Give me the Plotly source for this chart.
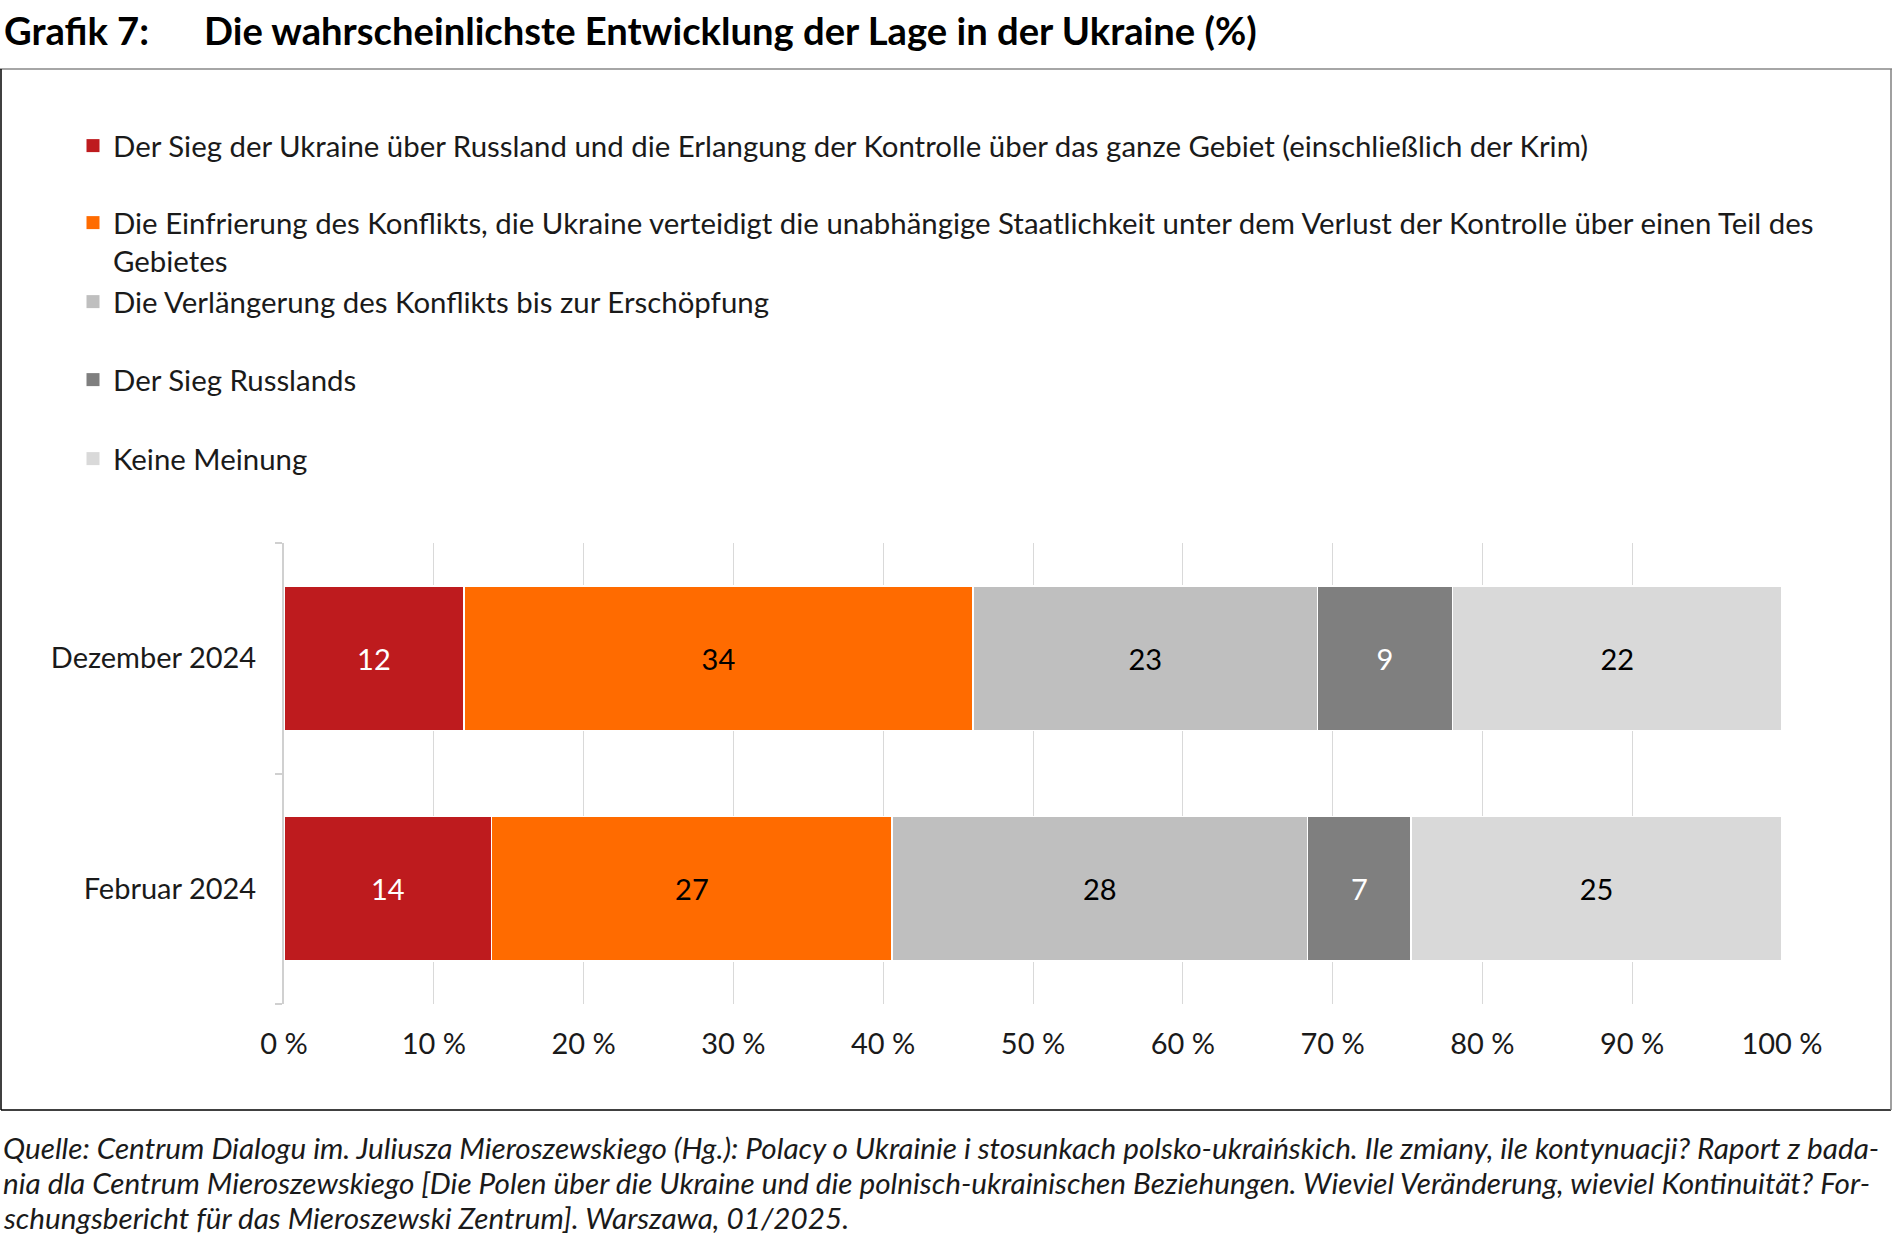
import plotly.graph_objects as go

categories = ["Februar 2024", "Dezember 2024"]
series_names = [
    "Der Sieg der Ukraine über Russland und die Erlangung der Kontrolle über das ganze Gebiet (einschließlich der Krim)",
    "Die Einfrierung des Konflikts, die Ukraine verteidigt die unabhängige Staatlichkeit unter dem Verlust der Kontrolle über einen Teil des<br>Gebietes",
    "Die Verlängerung des Konflikts bis zur Erschöpfung",
    "Der Sieg Russlands",
    "Keine Meinung",
]
# values ordered as categories: [Februar 2024, Dezember 2024]
sieg_ukraine = [14, 12]
einfrierung = [27, 34]
verlaengerung = [28, 23]
sieg_russland = [7, 9]
keine_meinung = [25, 22]
series_values = [sieg_ukraine, einfrierung, verlaengerung, sieg_russland, keine_meinung]
colors = ["#BE1B1E", "#FF6B00", "#BFBFBF", "#7F7F7F", "#D9D9D9"]
text_colors = ["white", "black", "black", "white", "black"]
tick_vals = [0, 10, 20, 30, 40, 50, 60, 70, 80, 90, 100]
tick_text = [f"{v} %" for v in tick_vals]

W, H = 1893, 1240
L, R, T, B = 284, 111, 543, 236
PW, PH = W - L - R, H - T - B


def px2x(px):
    return (px - L) / PW


def py2y(py):
    return (H - B - py) / PH


FONT = "Lato"
FS = 29
LFS = 29.4
fig = go.Figure()
legend_centers = [146, 242, 302, 380, 459]
legend_names = ["legend", "legend2", "legend3", "legend4", "legend5"]
for i, (name, vals) in enumerate(zip(series_names, series_values)):
    fig.add_trace(go.Bar(
        y=categories, x=vals, orientation="h", name=name,
        marker=dict(color=colors[i], line=dict(color="white", width=1.5)),
        text=[str(v) for v in vals], textposition="inside", insidetextanchor="middle",
        textangle=0, constraintext="none",
        textfont=dict(family=FONT, size=FS, color=text_colors[i]),
        showlegend=False, hoverinfo="skip",
    ))
# legend entries (square swatches)
for i, name in enumerate(series_names):
    fig.add_trace(go.Scatter(
        x=[None], y=[None], mode="markers", name=name,
        marker=dict(symbol="square", size=13, color=colors[i]),
        legend=legend_names[i], showlegend=True, hoverinfo="skip",
    ))

layout_legends = {}
for i, ln in enumerate(legend_names):
    layout_legends[ln] = dict(
        xref="container", yref="container",
        x=73 / W, y=1 - legend_centers[i] / H,
        xanchor="left", yanchor="middle",
        font=dict(family=FONT, size=LFS, color="#1a1a1a"),
        bgcolor="rgba(0,0,0,0)", valign="top", itemsizing="trace",
        itemclick=False, itemdoubleclick=False,
    )

fig.update_layout(
    width=W, height=H,
    margin=dict(l=L, r=R, t=T, b=B, autoexpand=False),
    barmode="stack", barnorm="percent", bargap=0.375,
    plot_bgcolor="white", paper_bgcolor="white",
    font=dict(family=FONT, size=FS, color="#1a1a1a"),
    showlegend=True,
    **layout_legends,
)
fig.update_xaxes(
    range=[0, 100], tickvals=tick_vals, ticktext=tick_text,
    showgrid=True, gridcolor="#D9D9D9", gridwidth=1, zeroline=False,
    showline=False, ticks="", ticklabelstandoff=20,
    tickfont=dict(family=FONT, size=FS, color="#1a1a1a"), fixedrange=True,
)
fig.update_yaxes(
    type="category", categoryorder="array", categoryarray=categories,
    showline=True, linecolor="#D0D0D0", linewidth=2,
    ticks="outside", tickson="boundaries", ticklen=7, tickcolor="#D0D0D0", tickwidth=2,
    showgrid=False, ticklabelstandoff=20,
    tickfont=dict(family=FONT, size=FS, color="#1a1a1a"), fixedrange=True,
)

annotations = [
    dict(text="<b>Grafik 7:</b>", x=px2x(2), y=py2y(30)),
    dict(text="<b>Die wahrscheinlichste Entwicklung der Lage in der Ukraine (%)</b>", x=px2x(202), y=py2y(30)),
]
for a in annotations:
    a.update(xref="paper", yref="paper", xanchor="left", yanchor="middle", showarrow=False,
             font=dict(family=FONT, size=38.2, color="black"))
footer_lines = [
    "Quelle: Centrum Dialogu im. Juliusza Mieroszewskiego (Hg.): Polacy o Ukrainie i stosunkach polsko-ukraińskich. Ile zmiany, ile kontynuacji? Raport z bada-",
    "nia dla Centrum Mieroszewskiego [Die Polen über die Ukraine und die polnisch-ukrainischen Beziehungen. Wieviel Veränderung, wieviel Kontinuität? For-",
    "schungsbericht für das Mieroszewski Zentrum]. Warszawa, 01/2025.",
]
for line, yc in zip(footer_lines, [1147, 1182, 1217]):
    annotations.append(dict(text=f"<i>{line}</i>", x=px2x(1), y=py2y(yc), xref="paper", yref="paper",
                            xanchor="left", yanchor="middle", showarrow=False,
                            font=dict(family=FONT, size=29.7, color="#1a1a1a")))
fig.update_layout(annotations=annotations)

shapes = [
    dict(type="line", x0=px2x(0), x1=px2x(1892), y0=py2y(69), y1=py2y(69), line=dict(color="#A6A6A6", width=2)),
    dict(type="line", x0=px2x(1), x1=px2x(1), y0=py2y(69), y1=py2y(1110), line=dict(color="black", width=1.5)),
    dict(type="line", x0=px2x(1), x1=px2x(1891), y0=py2y(1110), y1=py2y(1110), line=dict(color="black", width=1.5)),
    dict(type="line", x0=px2x(1891), x1=px2x(1891), y0=py2y(69), y1=py2y(1110), line=dict(color="#808080", width=1.5)),
]
for s in shapes:
    s.update(xref="paper", yref="paper", layer="above")
fig.update_layout(shapes=shapes)

fig.write_html(
    "out.html",
    config={"displayModeBar": False},
    post_script="document.body.style.margin='0';document.body.style.overflow='hidden';",
)
